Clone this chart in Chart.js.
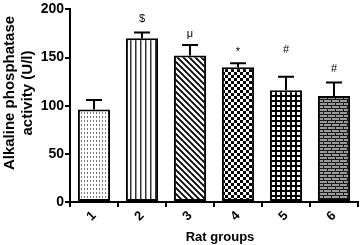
<!DOCTYPE html>
<html>
<head>
<meta charset="utf-8">
<script src="https://cdn.jsdelivr.net/npm/chart.js@4/dist/chart.umd.min.js"></script>
<style>
  html, body { margin: 0; padding: 0; background: #fff; }
  #wrap { width: 360px; height: 245px; position: relative; }
</style>
</head>
<body>
<div id="wrap"><canvas id="alpChart" width="360" height="245"></canvas></div>
<script>
// ===== Data =====
const groups = ["1", "2", "3", "4", "5", "6"];
const alpMeans = [96, 170, 152, 140, 116, 110];
const alpSem = [10, 6, 11, 4, 14, 14];
const sigMarks = ["", "$", "\u03BC", "*", "#", "#"];
const sigLevel = [null, 190, 175, 156, 158, 138];
const yTicks = [0, 50, 100, 150, 200];
const yTitle = ["Alkaline phosphatase", "activity (U/l)"];
const xTitle = "Rat groups";

// ===== Fill patterns =====
function makePattern(w, h, draw) {
  const c = document.createElement("canvas");
  c.width = w; c.height = h;
  const g = c.getContext("2d");
  g.fillStyle = "#fff";
  g.fillRect(0, 0, w, h);
  draw(g);
  return c.getContext("2d").createPattern(c, "repeat");
}

const patterns = [
  // stipple
  makePattern(3, 4, g => { g.fillStyle = "#777"; g.fillRect(0, 0, 1, 2); }),
  // vertical lines
  makePattern(5, 4, g => { g.fillStyle = "#333"; g.fillRect(0, 0, 1, 4); g.fillStyle = "#999"; g.fillRect(1, 0, 1, 4); }),
  // diagonal
  makePattern(6, 6, g => {
    g.strokeStyle = "#000"; g.lineWidth = 1.8;
    g.beginPath();
    g.moveTo(-1, -1); g.lineTo(7, 7);
    g.moveTo(-7, -1); g.lineTo(1, 7);
    g.moveTo(5, -1); g.lineTo(13, 7);
    g.stroke();
  }),
  // checkerboard
  makePattern(6, 6, g => { g.fillStyle = "#000"; g.fillRect(0, 0, 3, 3); g.fillRect(3, 3, 3, 3); }),
  // grid
  makePattern(5, 5, g => { g.fillStyle = "#000"; g.fillRect(0, 0, 5, 2); g.fillRect(0, 0, 2, 5); }),
  // brick
  makePattern(8, 6, g => {
    g.fillStyle = "#1a1a1a"; g.fillRect(0, 0, 8, 6);
    g.fillStyle = "#9a9a9a";
    g.fillRect(0, 1, 7, 2);
    g.fillRect(4, 4, 7, 2);
    g.fillRect(0, 4, 3, 2);
  })
];

// ===== Error bars + significance marks + axis titles =====
const errorBarPlugin = {
  id: "errorBars",
  afterDatasetsDraw(chart) {
    const ctx = chart.ctx;
    const meta = chart.getDatasetMeta(0);
    const y = chart.scales.y;
    ctx.save();
    ctx.strokeStyle = "#000";
    ctx.lineWidth = 2;
    meta.data.forEach((bar, i) => {
      const top = y.getPixelForValue(alpMeans[i] + alpSem[i]);
      ctx.beginPath();
      ctx.moveTo(bar.x, bar.y);
      ctx.lineTo(bar.x, top);
      ctx.moveTo(bar.x - 8, top);
      ctx.lineTo(bar.x + 8, top);
      ctx.stroke();
      if (sigMarks[i]) {
        ctx.fillStyle = "#000";
        ctx.font = "11px Arial";
        ctx.textAlign = "center";
        ctx.textBaseline = "middle";
        ctx.fillText(sigMarks[i], bar.x, y.getPixelForValue(sigLevel[i]));
      }
    });

    // axis titles
    ctx.fillStyle = "#000";
    ctx.textAlign = "center";
    ctx.textBaseline = "middle";
    ctx.font = "bold 13px Arial";
    ctx.fillText(xTitle, 220, 237);
    ctx.font = "bold 15px Arial";
    ctx.translate(10, 93);
    ctx.rotate(-Math.PI / 2);
    yTitle.forEach((line, k) => ctx.fillText(line, 0, k * 18));
    ctx.restore();
  }
};

new Chart(document.getElementById("alpChart"), {
  type: "bar",
  data: {
    labels: groups,
    datasets: [{
      data: alpMeans,
      backgroundColor: patterns,
      borderColor: "#000",
      borderWidth: 2,
      borderSkipped: false,
      categoryPercentage: 1,
      barPercentage: 0.67
    }]
  },
  options: {
    responsive: false,
    animation: false,
    devicePixelRatio: 1,
    layout: { padding: { top: 7, right: 2, left: 0, bottom: 0 } },
    plugins: { legend: { display: false }, tooltip: { enabled: false } },
    scales: {
      x: {
        grid: { display: true, drawOnChartArea: false, drawTicks: true, tickLength: 5, color: "#000", lineWidth: 2 },
        border: { display: true, color: "#000", width: 2 },
        ticks: { color: "#000", font: { family: "Arial", size: 13, weight: "bold" }, minRotation: 45, maxRotation: 45, padding: 1 },
        afterFit(scale) { scale.height = 43; }
      },
      y: {
        min: 0,
        max: 200,
        afterBuildTicks(scale) { scale.ticks = yTicks.map(v => ({ value: v })); },
        grid: { display: true, drawOnChartArea: false, drawTicks: true, tickLength: 5, color: "#000", lineWidth: 2 },
        border: { display: true, color: "#000", width: 2 },
        ticks: { color: "#000", font: { family: "Arial", size: 14, weight: "bold" }, padding: 1 },
        afterFit(scale) { scale.width = 70; }
      }
    }
  },
  plugins: [errorBarPlugin]
});
</script>
</body>
</html>
